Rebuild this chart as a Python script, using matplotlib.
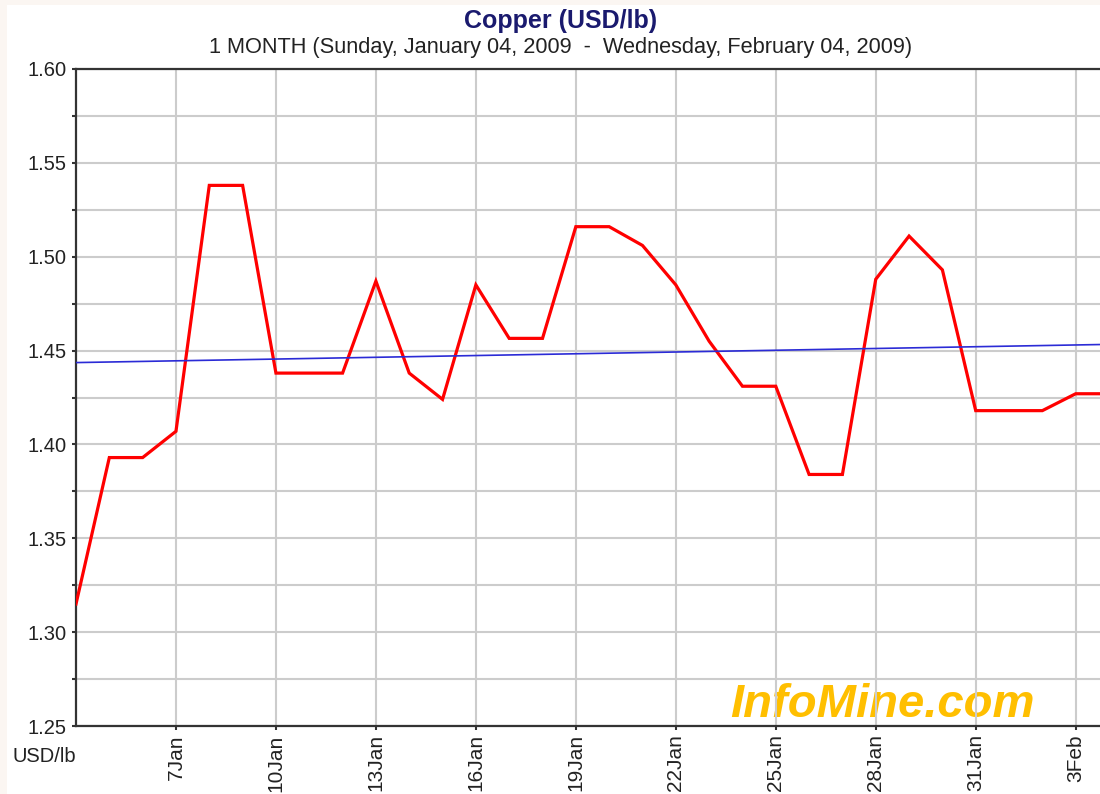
import matplotlib
matplotlib.use("Agg")
import matplotlib.pyplot as plt
from matplotlib.patches import Rectangle
import pandas as pd

plt.rcParams['font.family'] = ['Liberation Sans', 'DejaVu Sans']

# ---- data ----
dates = pd.date_range('2009-01-04', '2009-02-04', freq='D')
prices = [1.315, 1.393, 1.393, 1.407, 1.538, 1.538, 1.438, 1.438, 1.438, 1.487,
          1.438, 1.424, 1.485, 1.4565, 1.4565, 1.516, 1.516, 1.506, 1.485, 1.455,
          1.431, 1.431, 1.384, 1.384, 1.488, 1.511, 1.493, 1.418, 1.418, 1.418,
          1.427, 1.427]
trend_dates = pd.to_datetime(['2009-01-04', '2009-02-04'])
trend_values = [1.4436, 1.4533]
tick_dates = pd.to_datetime(['2009-01-07', '2009-01-10', '2009-01-13', '2009-01-16',
                             '2009-01-19', '2009-01-22', '2009-01-25', '2009-01-28',
                             '2009-01-31', '2009-02-03'])
tick_labels = ['7Jan', '10Jan', '13Jan', '16Jan', '19Jan', '22Jan', '25Jan',
               '28Jan', '31Jan', '3Feb']
y_major = [1.25, 1.30, 1.35, 1.40, 1.45, 1.50, 1.55, 1.60]
y_minor = [1.275, 1.325, 1.375, 1.425, 1.475, 1.525, 1.575]

W, H = 1100, 794
fig = plt.figure(figsize=(W / 100, H / 100), dpi=100)
fig.patch.set_facecolor('white')

# faint screenshot border strips (top and left)
fig.patches.append(Rectangle((0, 1 - 5 / H), 1, 5 / H, transform=fig.transFigure,
                             facecolor='#fbf6f2', edgecolor='none', zorder=0))
fig.patches.append(Rectangle((0, 0), 7 / W, 1, transform=fig.transFigure,
                             facecolor='#fbf6f2', edgecolor='none', zorder=0))

left, right, bottom, top = 76, 1109, 726, 69
ax = fig.add_axes([left / W, 1 - bottom / H, (right - left) / W, (bottom - top) / H])
ax.set_axisbelow(True)

ax.plot(dates, prices, color='#ff0000', lw=2.3, solid_joinstyle='miter', zorder=3)
ax.plot(trend_dates, trend_values, color='#2b2bd6', lw=1.2, zorder=4)

ax.set_xlim(dates[0], dates[-1])
ax.set_ylim(1.25, 1.60)

ax.set_xticks(tick_dates)
ax.set_xticklabels(tick_labels, rotation=90, fontsize=15, color='#222222')
ax.set_yticks(y_major)
ax.set_yticklabels([f'{v:.2f}' for v in y_major], fontsize=14.5, color='#222222')
ax.set_yticks(y_minor, minor=True)

ax.tick_params(axis='both', which='both', direction='out', length=3, width=1.5,
               color='#333333')
ax.tick_params(axis='y', pad=4)
ax.tick_params(axis='x', pad=3)

ax.grid(True, which='both', color='#cccccc', lw=1.5)
ax.grid(False, axis='x', which='minor')

for s in ['left', 'bottom', 'top']:
    ax.spines[s].set_color('#333333')
    ax.spines[s].set_linewidth(1.6)
ax.spines['right'].set_visible(False)

# watermark
ax.text(730 / W, 1 - 717 / H, 'InfoMine.com', transform=fig.transFigure,
        fontsize=34, fontweight='bold', fontstyle='italic', color='#ffbf00',
        ha='left', va='baseline', zorder=0.2)

fig.text(561 / W, 1 - 21 / H, 'Copper (USD/lb)', ha='center', va='center',
         fontsize=18, fontweight='bold', color='#1a1a6e')
fig.text(561 / W, 1 - 48 / H,
         '1 MONTH (Sunday, January 04, 2009  -  Wednesday, February 04, 2009)',
         ha='center', va='center', fontsize=15.7, color='#222222')
fig.text(13 / W, 1 - 762 / H, 'USD/lb', ha='left', va='baseline', fontsize=14.5,
         color='#222222')

fig.savefig('out.png', dpi=100, facecolor='white')
